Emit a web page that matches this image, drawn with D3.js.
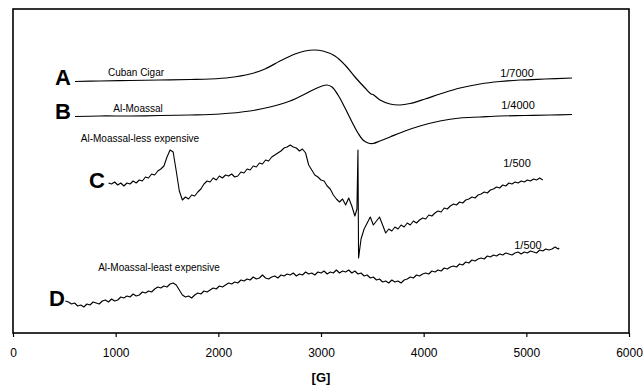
<!DOCTYPE html>
<html>
<head>
<meta charset="utf-8">
<script src="https://cdn.jsdelivr.net/npm/d3@7"></script>
<style>
  html, body { margin: 0; padding: 0; background: #fff; }
  svg { display: block; font-family: "Liberation Sans", Arial, sans-serif; }
</style>
</head>
<body>
<div id="epr-chart"></div>
<script>
// field axis ticks [G]
const fieldTicks = [0, 1000, 2000, 3000, 4000, 5000, 6000];

// spectrum A - Cuban Cigar (field G, signal a.u.)
const cubanCigar = [
  [604, 251.5], [847, 252], [1140, 252.5], [1431, 253], [1724, 253.5], [1919, 254],
  [2114, 255.5], [2308, 259], [2455, 264], [2601, 272], [2747, 279], [2844, 282],
  [2932, 283], [3019, 282], [3136, 277], [3234, 268], [3331, 256], [3429, 245],
  [3487, 239], [3506, 238.5], [3575, 233], [3672, 229], [3769, 228], [3867, 229.5],
  [4013, 234], [4159, 239], [4354, 245], [4549, 249], [4743, 251.5], [4938, 253],
  [5182, 254], [5445, 255]
];

// spectrum B - Al-Moassal
const alMoassal = [
  [604, 216.5], [847, 217], [1140, 217], [1431, 217.5], [1724, 218], [2016, 219],
  [2308, 222], [2503, 226], [2698, 232], [2844, 239], [2941, 244], [3010, 247],
  [3058, 248], [3107, 246], [3166, 238], [3234, 225], [3302, 211], [3360, 200],
  [3409, 193], [3458, 190], [3506, 189.5], [3575, 192], [3672, 196], [3818, 202],
  [3964, 207], [4159, 212], [4354, 215], [4549, 216], [4743, 217], [4987, 217.5],
  [5230, 218], [5445, 218.5]
];

// spectrum C - Al-Moassal-less expensive
const lessExpensive = [
  [930, 150], [960, 149], [990, 151], [1020, 148], [1050, 150], [1080, 147], [1110, 150],
  [1140, 149], [1170, 152], [1200, 150], [1230, 153], [1260, 152], [1290, 156], [1320, 155],
  [1350, 159], [1380, 158], [1410, 162], [1440, 164], [1470, 167], [1500, 176], [1530, 183],
  [1560, 181], [1590, 162], [1620, 142], [1650, 133], [1680, 136], [1710, 134], [1740, 138],
  [1770, 137], [1800, 141], [1830, 144], [1860, 149], [1890, 152], [1920, 151], [1950, 155],
  [1980, 153], [2010, 157], [2040, 155], [2070, 158], [2100, 157], [2130, 159], [2160, 156],
  [2190, 157], [2220, 161], [2250, 160], [2280, 164], [2310, 163], [2340, 167], [2370, 166],
  [2400, 170], [2430, 169], [2460, 173], [2490, 172], [2520, 176], [2550, 178], [2580, 180],
  [2610, 182], [2640, 185], [2670, 186], [2700, 188], [2730, 186], [2760, 185], [2790, 182],
  [2820, 184], [2850, 180], [2880, 168], [2910, 163], [2940, 158], [2970, 156], [3000, 153],
  [3030, 152], [3060, 147], [3090, 144], [3120, 138], [3150, 134], [3180, 131], [3210, 134],
  [3240, 128], [3270, 135], [3300, 127], [3330, 117], [3350, 124], [3360, 183], [3366, 75],
  [3390, 94], [3420, 104], [3450, 110], [3480, 116], [3510, 108], [3540, 112], [3570, 116],
  [3600, 108], [3630, 100], [3660, 104], [3690, 102], [3720, 106], [3750, 104], [3780, 108],
  [3810, 106], [3840, 110], [3870, 108], [3900, 112], [3930, 110], [3960, 113], [3990, 115],
  [4020, 114], [4050, 118], [4080, 117], [4110, 120], [4140, 122], [4170, 121], [4200, 125],
  [4230, 124], [4260, 127], [4290, 129], [4320, 128], [4350, 131], [4380, 130], [4410, 133],
  [4440, 134], [4470, 136], [4500, 135], [4530, 138], [4560, 139], [4590, 141], [4620, 140],
  [4650, 143], [4680, 144], [4710, 146], [4740, 145], [4770, 148], [4800, 147], [4830, 150],
  [4860, 149], [4890, 151], [4920, 150], [4950, 152], [4980, 151], [5010, 153], [5040, 152],
  [5070, 154], [5100, 153], [5130, 155], [5160, 153]
];

// spectrum D - Al-Moassal-least expensive
const leastExpensive = [
  [510, 32], [540, 31], [570, 29], [600, 30], [630, 27], [660, 28], [690, 26], [720, 29],
  [750, 28], [780, 31], [810, 30], [840, 29], [870, 32], [900, 33], [930, 31], [960, 34],
  [990, 32], [1020, 33], [1050, 36], [1080, 35], [1110, 37], [1140, 36], [1170, 39], [1200, 37],
  [1230, 38], [1260, 41], [1290, 40], [1320, 42], [1350, 41], [1380, 44], [1410, 46], [1440, 45],
  [1470, 47], [1500, 46], [1530, 49], [1560, 50], [1590, 48], [1620, 43], [1650, 38], [1680, 36],
  [1710, 37], [1740, 35], [1770, 38], [1800, 40], [1830, 39], [1860, 42], [1890, 41], [1920, 43],
  [1950, 45], [1980, 44], [2010, 47], [2040, 46], [2070, 48], [2100, 50], [2130, 49], [2160, 51],
  [2190, 50], [2220, 53], [2250, 52], [2280, 54], [2310, 53], [2340, 56], [2370, 54], [2400, 55],
  [2430, 58], [2460, 55], [2490, 54], [2520, 56], [2550, 57], [2580, 55], [2610, 58], [2640, 57],
  [2670, 59], [2700, 58], [2730, 60], [2760, 57], [2790, 59], [2820, 58], [2850, 61], [2880, 59],
  [2910, 60], [2940, 58], [2970, 61], [3000, 60], [3030, 62], [3060, 59], [3090, 61], [3120, 60],
  [3150, 63], [3180, 60], [3210, 62], [3240, 61], [3270, 63], [3300, 60], [3330, 62], [3360, 59],
  [3390, 60], [3420, 57], [3450, 58], [3480, 55], [3510, 56], [3540, 53], [3570, 54], [3600, 51],
  [3630, 52], [3660, 50], [3690, 53], [3720, 51], [3750, 52], [3780, 50], [3810, 53], [3840, 54],
  [3870, 56], [3900, 55], [3930, 58], [3960, 57], [3990, 59], [4020, 60], [4050, 59], [4080, 62],
  [4110, 61], [4140, 63], [4170, 62], [4200, 65], [4230, 64], [4260, 66], [4290, 67], [4320, 66],
  [4350, 69], [4380, 68], [4410, 71], [4440, 70], [4470, 73], [4500, 72], [4530, 74], [4560, 75],
  [4590, 74], [4620, 77], [4650, 76], [4680, 78], [4710, 77], [4740, 79], [4770, 78], [4800, 80],
  [4830, 79], [4860, 78], [4890, 80], [4920, 81], [4950, 79], [4980, 81], [5010, 80], [5040, 82],
  [5070, 81], [5100, 80], [5130, 83], [5160, 82], [5190, 84], [5220, 83], [5250, 84], [5280, 86],
  [5310, 84], [5320, 85]
];

const traceLetters = ["A", "B", "C", "D"];
const sampleNames = ["Cuban Cigar", "Al-Moassal", "Al-Moassal-less expensive", "Al-Moassal-least expensive"];
const dilutions = ["1/7000", "1/4000", "1/500", "1/500"];

const W = 643, H = 386;
const plot = { left: 13, right: 629, top: 9, bottom: 333 };

const svg = d3.select("#epr-chart")
  .append("svg")
  .attr("width", W)
  .attr("height", H);

const x = d3.scaleLinear().domain([0, 6000]).range([plot.left, plot.right]);
const y = d3.scaleLinear().domain([0, 324]).range([plot.bottom, plot.top]);

// frame
svg.append("rect")
  .attr("x", plot.left)
  .attr("y", plot.top)
  .attr("width", plot.right - plot.left)
  .attr("height", plot.bottom - plot.top)
  .attr("fill", "none")
  .attr("stroke", "#000")
  .attr("stroke-width", 1.6);

// x axis
const xAxis = svg.append("g")
  .attr("transform", "translate(0," + plot.bottom + ")")
  .call(d3.axisBottom(x).tickValues(fieldTicks).tickSize(4).tickSizeOuter(0).tickPadding(11).tickFormat(d3.format("d")));
xAxis.select(".domain").remove();
xAxis.selectAll("line").attr("stroke", "#000").attr("stroke-width", 1.2);
xAxis.selectAll("text")
  .attr("fill", "#000")
  .style("font-size", "12px")
  .style("font-family", "'Liberation Sans', Arial, sans-serif");

svg.append("text")
  .attr("x", x(3000))
  .attr("y", 382)
  .attr("text-anchor", "middle")
  .style("font-size", "13px")
  .style("font-weight", "bold")
  .text("[G]");

// spectra
const line = d3.line()
  .x(d => x(d[0]))
  .y(d => y(d[1]));

const smoothLine = d3.line()
  .x(d => x(d[0]))
  .y(d => y(d[1]))
  .curve(d3.curveCatmullRom);

svg.append("path").datum(cubanCigar)
  .attr("d", smoothLine).attr("fill", "none").attr("stroke", "#000").attr("stroke-width", 1.2);
svg.append("path").datum(alMoassal)
  .attr("d", smoothLine).attr("fill", "none").attr("stroke", "#000").attr("stroke-width", 1.2);
svg.append("path").datum(lessExpensive)
  .attr("d", line).attr("fill", "none").attr("stroke", "#000").attr("stroke-width", 1.1).attr("stroke-linejoin", "round");
svg.append("path").datum(leastExpensive)
  .attr("d", line).attr("fill", "none").attr("stroke", "#000").attr("stroke-width", 1.1).attr("stroke-linejoin", "round");

// trace letters
const letterPos = [[487, 256], [487, 222], [818, 153], [429, 35]];
svg.selectAll(".letter")
  .data(traceLetters)
  .enter()
  .append("text")
  .attr("class", "letter")
  .attr("x", (d, i) => x(letterPos[i][0]))
  .attr("y", (d, i) => y(letterPos[i][1]))
  .attr("dy", "0.36em")
  .attr("text-anchor", "middle")
  .style("font-size", "22px")
  .style("font-weight", "bold")
  .text(d => d);

// sample names
const namePos = [[1198, 261], [1218, 225], [1237, 195], [1422, 66]];
svg.selectAll(".name")
  .data(sampleNames)
  .enter()
  .append("text")
  .attr("class", "name")
  .attr("x", (d, i) => x(namePos[i][0]))
  .attr("y", (d, i) => y(namePos[i][1]))
  .attr("dy", "0.35em")
  .attr("text-anchor", "middle")
  .style("font-size", "10px")
  .text(d => d);

// dilution factors
const dilPos = [[4909, 260], [4919, 228], [4909, 170], [5016, 88]];
svg.selectAll(".dil")
  .data(dilutions)
  .enter()
  .append("text")
  .attr("class", "dil")
  .attr("x", (d, i) => x(dilPos[i][0]))
  .attr("y", (d, i) => y(dilPos[i][1]))
  .attr("dy", "0.35em")
  .attr("text-anchor", "middle")
  .style("font-size", "11px")
  .text(d => d);
</script>
</body>
</html>
